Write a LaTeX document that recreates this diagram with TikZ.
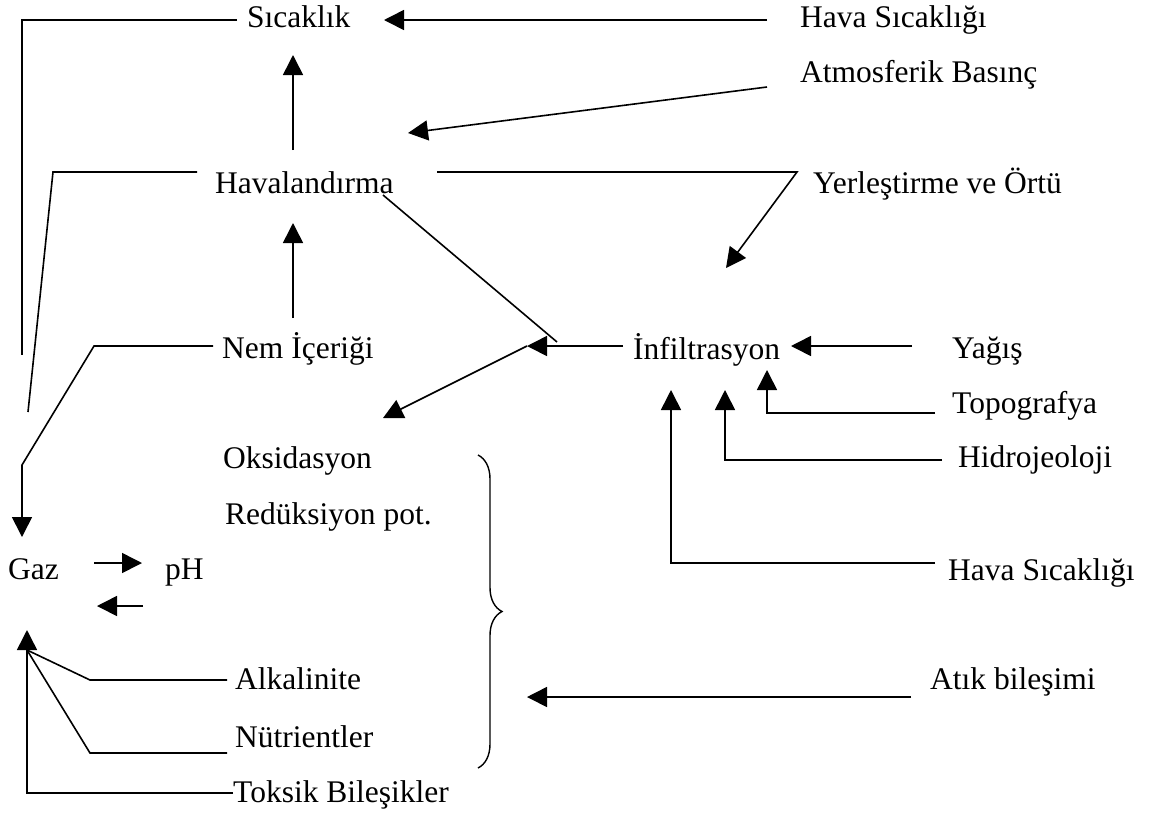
\documentclass[tikz,border=0pt]{standalone}
\usepackage{fontspec}
\setmainfont{Liberation Serif}
\usetikzlibrary{arrows.meta,decorations.pathreplacing}
\begin{document}
\begin{tikzpicture}[x=1pt,y=-1pt,
  lbl/.style={anchor=base west,inner sep=0pt,font=\fontsize{31.5}{38}\selectfont},
  ln/.style={line width=1.6pt,line join=miter},
  arr/.style={ln,-{Triangle[length=20pt,width=20pt]}}]
\useasboundingbox (0,0) rectangle (1150,812);
% labels
\node[lbl] (sic) at (247,27) {Sıcaklık};
\node[lbl] (hs1) at (800,27) {Hava Sıcaklığı};
\node[lbl] (atm) at (800,82) {Atmosferik Basınç};
\node[lbl] (hav) at (215,193) {Havalandırma};
\node[lbl] (yer) at (813,193) {Yerleştirme ve Örtü};
\node[lbl] (nem) at (222,358) {Nem İçeriği};
\node[lbl] (inf) at (633,359) {İnfiltrasyon};
\node[lbl] (yag) at (952,358) {Yağış};
\node[lbl] (topo) at (952,413) {Topografya};
\node[lbl] (hid) at (958,467) {Hidrojeoloji};
\node[lbl] (oks) at (223,468) {Oksidasyon};
\node[lbl] (red) at (225,524) {Redüksiyon pot.};
\node[lbl] (gaz) at (8,579) {Gaz};
\node[lbl] (ph) at (165,579) {pH};
\node[lbl] (hs2) at (948,580) {Hava Sıcaklığı};
\node[lbl] (alk) at (235,689) {Alkalinite};
\node[lbl] (nut) at (235,747) {Nütrientler};
\node[lbl] (tok) at (233,802) {Toksik Bileşikler};
\node[lbl] (atik) at (930,689) {Atık bileşimi};
% coordinates
\coordinate (sicL) at (237,20);
\coordinate (sicC) at (22,20);
\coordinate (sicE) at (22,355);
\coordinate (hs1E) at (767,20);
\coordinate (sicR) at (384,20);
\coordinate (havT) at (293,150);
\coordinate (sicB) at (293,55);
\coordinate (atmE) at (767,87);
\coordinate (havA) at (408,133);
\coordinate (havL) at (197,172);
\coordinate (havC) at (53,172);
\coordinate (havE) at (28,412);
\coordinate (havR) at (437,172);
\coordinate (yerC) at (797,172);
\coordinate (infT) at (726,268);
\coordinate (havD) at (383,195);
\coordinate (havX) at (557,342);
\coordinate (nemT) at (293,318);
\coordinate (havB) at (293,223);
\coordinate (nemL) at (213,346);
\coordinate (nemC1) at (94,346);
\coordinate (nemC2) at (22,465);
\coordinate (gazT) at (22,537);
\coordinate (infL) at (623,346);
\coordinate (mid) at (527,346);
\coordinate (oksA) at (383,418);
\coordinate (yagE) at (912,346);
\coordinate (infR) at (791,346);
\coordinate (topE) at (935,413);
\coordinate (topC) at (767,413);
\coordinate (infB1) at (767,370);
\coordinate (hidE) at (942,460);
\coordinate (hidC) at (725,460);
\coordinate (infB2) at (725,390);
\coordinate (hs2E) at (935,563);
\coordinate (hs2C) at (671,563);
\coordinate (infB3) at (671,390);
\coordinate (gp1) at (94,563);
\coordinate (gp2) at (142,563);
\coordinate (pg1) at (143,606);
\coordinate (pg2) at (97,606);
\coordinate (tokE) at (233,793);
\coordinate (tokC) at (27,793);
\coordinate (gazB) at (27,630);
\coordinate (fan) at (27,650);
\coordinate (alkE) at (227,680);
\coordinate (alkC) at (90,680);
\coordinate (nutE) at (227,753);
\coordinate (nutC) at (90,753);
\coordinate (atikE) at (911,697);
\coordinate (brA) at (527,697);
\coordinate (brT) at (478,455);
\coordinate (brB) at (478,768);
% connectors
\draw[ln] (sicL) -- (sicC) -- (sicE);
\draw[arr] (hs1E) -- (sicR);
\draw[arr] (havT) -- (sicB);
\draw[arr] (atmE) -- (havA);
\draw[ln] (havL) -- (havC) -- (havE);
\draw[arr] (havR) -- (yerC) -- (infT);
\draw[ln] (havD) -- (havX);
\draw[arr] (nemT) -- (havB);
\draw[arr] (nemL) -- (nemC1) -- (nemC2) -- (gazT);
\draw[arr] (infL) -- (mid);
\draw[arr] (mid) -- (oksA);
\draw[arr] (yagE) -- (infR);
\draw[arr] (topE) -- (topC) -- (infB1);
\draw[arr] (hidE) -- (hidC) -- (infB2);
\draw[arr] (hs2E) -- (hs2C) -- (infB3);
\draw[arr] (gp1) -- (gp2);
\draw[arr] (pg1) -- (pg2);
\draw[arr] (tokE) -- (tokC) -- (gazB);
\draw[ln] (alkE) -- (alkC) -- (fan);
\draw[ln] (nutE) -- (nutC) -- (fan);
\draw[arr] (atikE) -- (brA);
\draw[line width=1.4pt,decorate,decoration={brace,amplitude=24pt,aspect=0.5}] (brT) -- (brB);
\end{tikzpicture}
\end{document}
